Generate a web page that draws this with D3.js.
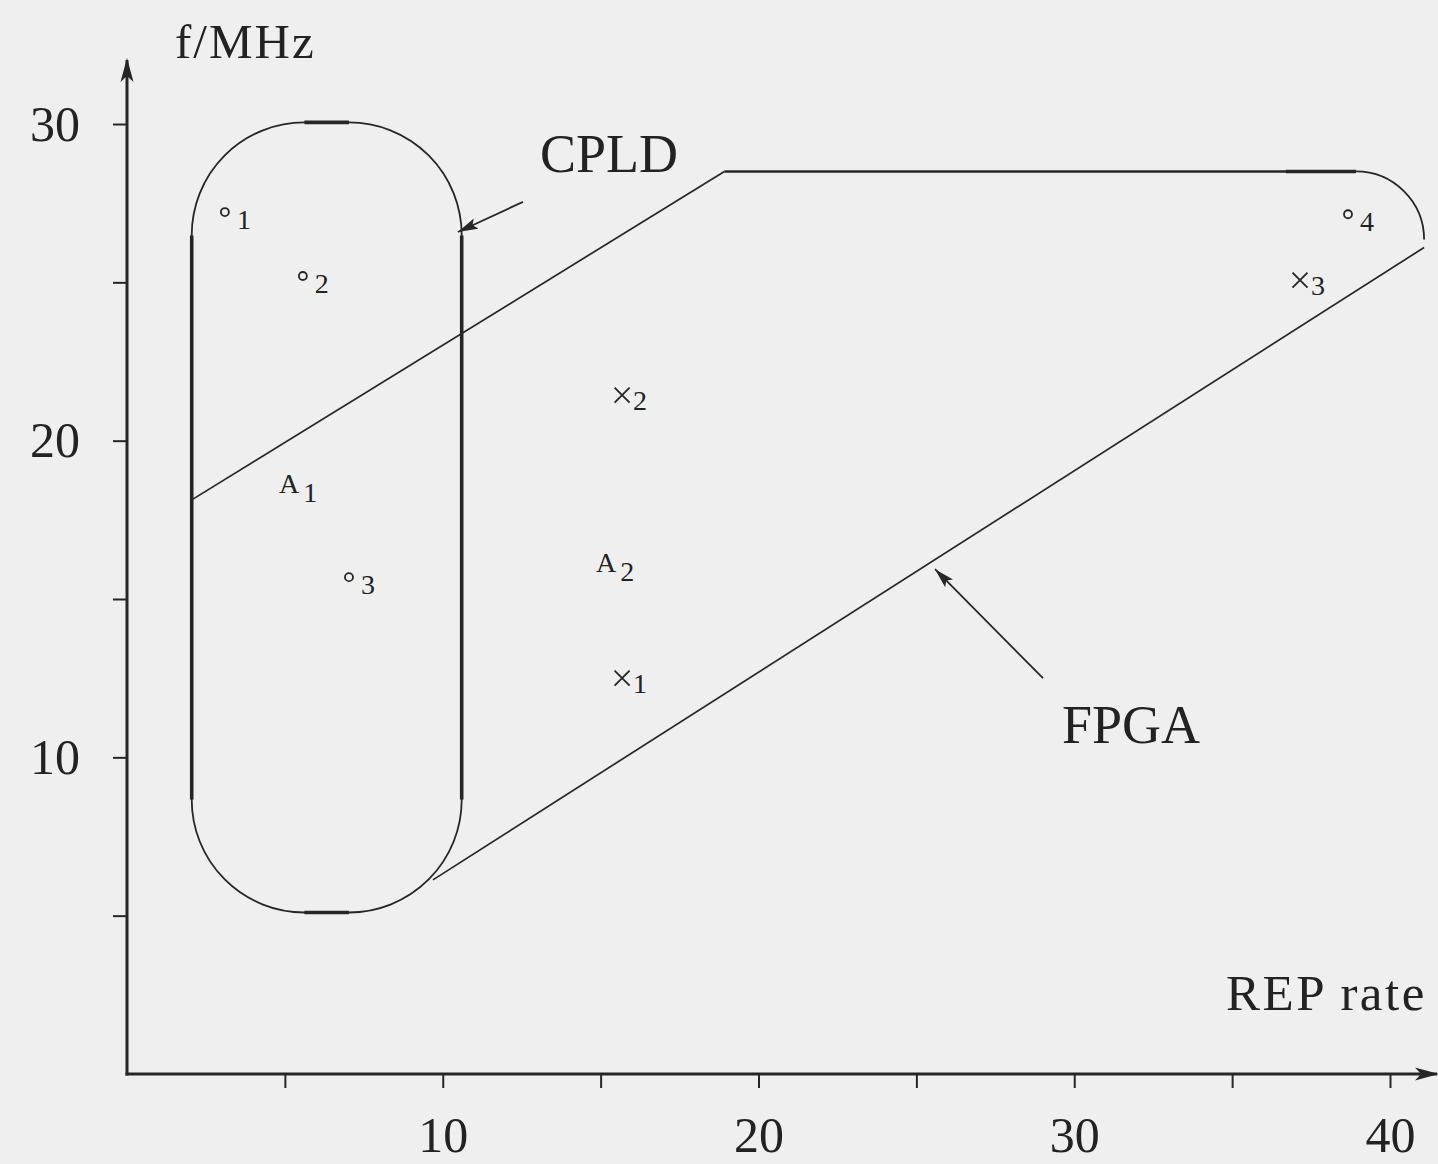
<!DOCTYPE html>
<html>
<head>
<meta charset="utf-8">
<script src="https://cdn.jsdelivr.net/npm/d3@7"></script>
<style>
  html, body { margin: 0; padding: 0; background: #efefef; }
  svg { display: block; }
  text { font-family: "Liberation Serif", "DejaVu Serif", serif; fill: #222; }
</style>
</head>
<body>
<div id="chart"></div>
<script>
// axis ticks (REP rate / f in MHz)
const xTicks = [5, 10, 15, 20, 25, 30, 35, 40];
const xTickLabels = [10, 20, 30, 40];
const yTicks = [5, 10, 15, 20, 25, 30];
const yTickLabels = [10, 20, 30];

// CPLD region: rounded box [xMin, xMax, yMin, yMax] and corner radius
const cpldBox = [2.05, 10.6, 5.1, 30.05];
const cpldRadius = 3.57;

// FPGA region boundaries
const fpgaUpper = [[2.05, 18.13], [18.92, 28.5], [38.92, 28.5]];
const fpgaCorner = [38.92, 26.35, 2.16];   // arc centre x, y, radius
const fpgaLower = [[9.69, 6.13], [41.08, 26.1]];

// benchmark points
const circlePoints = [
  { id: "1", x: 3.10, y: 27.22 },
  { id: "2", x: 5.57, y: 25.20 },
  { id: "3", x: 7.03, y: 15.69 },
  { id: "4", x: 38.67, y: 27.15 }
];
const crossPoints = [
  { id: "1", x: 15.68, y: 12.50 },
  { id: "2", x: 15.68, y: 21.44 },
  { id: "3", x: 37.15, y: 25.07 }
];
const areaLabels = [
  { id: "1", x: 5.16, y: 18.64 },
  { id: "2", x: 15.20, y: 16.14 }
];

// annotation arrows: [from, to]
const cpldArrow = [[12.54, 27.54], [10.48, 26.59]];
const fpgaArrow = [[29.01, 12.50], [25.59, 15.94]];

const width = 1438, height = 1164;
const ink = "#262626";

const x = d3.scaleLinear().domain([0, 40]).range([127, 1390]);
const y = d3.scaleLinear().domain([0, 30]).range([1074, 124]);

const svg = d3.select("#chart").append("svg")
    .attr("width", width)
    .attr("height", height);

svg.append("rect").attr("width", width).attr("height", height).attr("fill", "#efefef");

const defs = svg.append("defs");
defs.append("marker")
    .attr("id", "head")
    .attr("markerUnits", "userSpaceOnUse")
    .attr("viewBox", "0 -6 20 12")
    .attr("refX", 20).attr("refY", 0)
    .attr("markerWidth", 20).attr("markerHeight", 12)
    .attr("orient", "auto")
    .append("path")
    .attr("d", "M0,-5.5L20,0L0,5.5L4,0Z")
    .attr("fill", ink);
defs.append("marker")
    .attr("id", "axisHead")
    .attr("markerUnits", "userSpaceOnUse")
    .attr("viewBox", "0 -7 24 14")
    .attr("refX", 22).attr("refY", 0)
    .attr("markerWidth", 24).attr("markerHeight", 14)
    .attr("orient", "auto")
    .append("path")
    .attr("d", "M0,-6.5L24,0L0,6.5L6,0Z")
    .attr("fill", ink);

// axes
const xAxis = d3.axisBottom(x)
    .tickValues(xTicks)
    .tickSize(14)
    .tickPadding(28)
    .tickFormat(d => xTickLabels.includes(d) ? d : "");
const gx = svg.append("g").attr("transform", `translate(0,${y(0)})`).call(xAxis);

const yAxis = d3.axisLeft(y)
    .tickValues(yTicks)
    .tickSize(14)
    .tickPadding(33)
    .tickFormat(d => yTickLabels.includes(d) ? d : "");
const gy = svg.append("g").attr("transform", `translate(${x(0)},0)`).call(yAxis);

[gx, gy].forEach(g => {
  g.select(".domain").remove();
  g.selectAll(".tick line").attr("stroke", ink).attr("stroke-width", 2);
  g.selectAll(".tick text")
      .attr("font-size", 50)
      .attr("font-family", "Liberation Serif, serif")
      .attr("fill", "#222");
});

svg.append("line")
    .attr("x1", x(0) - 1.5).attr("y1", y(0))
    .attr("x2", 1437).attr("y2", y(0))
    .attr("stroke", ink).attr("stroke-width", 3)
    .attr("marker-end", "url(#axisHead)");
svg.append("line")
    .attr("x1", x(0)).attr("y1", y(0) + 1.5)
    .attr("x2", x(0)).attr("y2", 60)
    .attr("stroke", ink).attr("stroke-width", 3)
    .attr("marker-end", "url(#axisHead)");

svg.append("text").attr("x", 175).attr("y", 58)
    .attr("font-size", 49).attr("letter-spacing", 2).text("f/MHz");
svg.append("text").attr("x", 1226).attr("y", 1010)
    .attr("font-size", 51).attr("letter-spacing", 2.5).text("REP rate");

// CPLD outline
const [cx0, cx1, cy0, cy1] = cpldBox;
const rx = x(cx0 + cpldRadius) - x(cx0);
const ry = y(cy1 - cpldRadius) - y(cy1);
const L = x(cx0), R = x(cx1), T = y(cy1), B = y(cy0);
const cpld = d3.path();
cpld.moveTo(L + rx, T);
cpld.lineTo(R - rx, T);
cpld.arcTo(R, T, R, T + ry, rx);
cpld.lineTo(R, B - ry);
cpld.arcTo(R, B, R - rx, B, rx);
cpld.lineTo(L + rx, B);
cpld.arcTo(L, B, L, B - ry, rx);
cpld.lineTo(L, T + ry);
cpld.arcTo(L, T, L + rx, T, rx);
cpld.closePath();
svg.append("path")
    .attr("d", cpld.toString())
    .attr("fill", "none")
    .attr("stroke", ink)
    .attr("stroke-width", 1.8);

// straight parts of the box are drawn heavier
const heavy = [
  [[cx0, cy0 + cpldRadius], [cx0, cy1 - cpldRadius]],
  [[cx1, cy0 + cpldRadius], [cx1, cy1 - cpldRadius]],
  [[cx0 + cpldRadius, cy1], [cx1 - cpldRadius, cy1]],
  [[cx0 + cpldRadius, cy0], [cx1 - cpldRadius, cy0]],
  [[36.7, fpgaUpper[2][1]], fpgaUpper[2]]
];
svg.append("g").selectAll("line")
    .data(heavy)
    .join("line")
    .attr("x1", d => x(d[0][0])).attr("y1", d => y(d[0][1]))
    .attr("x2", d => x(d[1][0])).attr("y2", d => y(d[1][1]))
    .attr("stroke", ink)
    .attr("stroke-width", 3.6);

// FPGA boundary
const line = d3.line().x(d => x(d[0])).y(d => y(d[1]));
svg.append("path")
    .attr("d", line(fpgaUpper.slice(0, 2)))
    .attr("fill", "none").attr("stroke", ink).attr("stroke-width", 1.7);
svg.append("path")
    .attr("d", line(fpgaUpper.slice(1)))
    .attr("fill", "none").attr("stroke", ink).attr("stroke-width", 2.4);

const [fcx, fcy, fr] = fpgaCorner;
const frp = x(fcx + fr) - x(fcx);
const corner = d3.path();
corner.moveTo(x(fcx), y(fcy + fr));
corner.arc(x(fcx), y(fcy), frp, -Math.PI / 2, 0);
svg.append("path")
    .attr("d", corner.toString())
    .attr("fill", "none").attr("stroke", ink).attr("stroke-width", 1.8);

svg.append("path")
    .attr("d", line(fpgaLower))
    .attr("fill", "none").attr("stroke", ink).attr("stroke-width", 1.7);

// annotation arrows
[cpldArrow, fpgaArrow].forEach(a => {
  svg.append("line")
      .attr("x1", x(a[0][0])).attr("y1", y(a[0][1]))
      .attr("x2", x(a[1][0])).attr("y2", y(a[1][1]))
      .attr("stroke", ink).attr("stroke-width", 1.8)
      .attr("marker-end", "url(#head)");
});

svg.append("text").attr("x", x(cpldArrow[0][0]) + 17).attr("y", 172)
    .attr("font-size", 54).text("CPLD");
svg.append("text").attr("x", 1062).attr("y", 743)
    .attr("font-size", 54).text("FPGA");

// markers
const marks = svg.append("g");
marks.selectAll("circle")
    .data(circlePoints)
    .join("circle")
    .attr("cx", d => x(d.x)).attr("cy", d => y(d.y))
    .attr("r", 4)
    .attr("fill", "none").attr("stroke", ink).attr("stroke-width", 1.8);

marks.selectAll("path.cross")
    .data(crossPoints)
    .join("path")
    .attr("class", "cross")
    .attr("d", d => {
      const px = x(d.x), py = y(d.y), s = 7.5;
      return `M${px - s},${py - s}L${px + s},${py + s}M${px - s},${py + s}L${px + s},${py - s}`;
    })
    .attr("stroke", ink).attr("stroke-width", 1.8);

marks.selectAll("text.sub")
    .data([...circlePoints.map(d => ({ ...d, dx: 12, dy: 17 })),
           ...crossPoints.map(d => ({ ...d, dx: 11, dy: 15 }))])
    .join("text")
    .attr("class", "sub")
    .attr("x", d => x(d.x) + d.dx).attr("y", d => y(d.y) + d.dy)
    .attr("font-size", 28)
    .text(d => d.id);

const aLab = marks.selectAll("text.area")
    .data(areaLabels)
    .join("text")
    .attr("class", "area")
    .attr("x", d => x(d.x) - 11).attr("y", d => y(d.y) + 9)
    .attr("font-size", 28);
aLab.append("tspan").text("A");
aLab.append("tspan").attr("dx", 4).attr("dy", 9).text(d => d.id);
</script>
</body>
</html>
